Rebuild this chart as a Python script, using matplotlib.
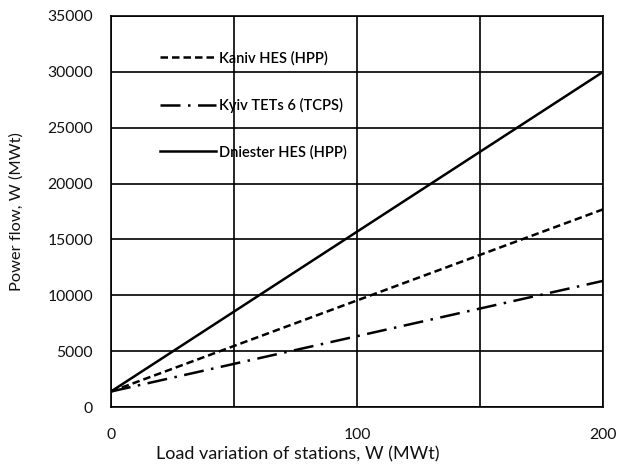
import matplotlib
matplotlib.use("Agg")
import matplotlib.pyplot as plt

load = [0, 200]
kaniv = [1400, 17700]
kyiv = [1400, 11300]
dniester = [1400, 30000]
names = ["Kaniv HES (HPP)", "Kyiv TETs 6 (TCPS)", "Dniester HES (HPP)"]

plt.rcParams["font.family"] = ["Lato", "DejaVu Sans"]

fig = plt.figure(figsize=(6.27, 4.68), dpi=100)
ax = fig.add_axes([0.177, 0.130, 0.785, 0.836])

ax.plot(load, kaniv, color="black", lw=1.8, dashes=(3, 1.6), label=names[0])
ax.plot(load, kyiv, color="black", lw=1.8, dashes=(8, 3, 1, 3), label=names[1])
ax.plot(load, dniester, color="black", lw=1.8, label=names[2])

ax.set_xlim(0, 200)
ax.set_ylim(0, 35000)
ax.set_xticks([0, 50, 100, 150, 200])
ax.set_xticklabels(["0", "", "100", "", "200"])
ax.set_yticks(range(0, 35001, 5000))
ax.grid(True, color="black", lw=1.2)
ax.set_axisbelow(True)
for s in ax.spines.values():
    s.set_linewidth(1.2)
ax.tick_params(length=0, labelsize=11.3, labelcolor="#111")
ax.tick_params(axis="x", pad=15)
ax.tick_params(axis="y", pad=13)

ax.set_xlabel("Load variation of stations, W (MWt)", fontsize=13, color="#111")
ax.xaxis.set_label_coords(0.38, -0.1)
ax.set_ylabel("Power flow, W (MWt)", fontsize=11.8, color="#111", labelpad=17)

leg = ax.legend(loc="upper left", bbox_to_anchor=(0.1, 0.91), frameon=False,
                handlelength=3.8, handletextpad=0.2, labelspacing=2.2,
                borderpad=0, borderaxespad=0,
                prop={"size": 10.5, "weight": "semibold"})

fig.savefig("out.png", dpi=100)
